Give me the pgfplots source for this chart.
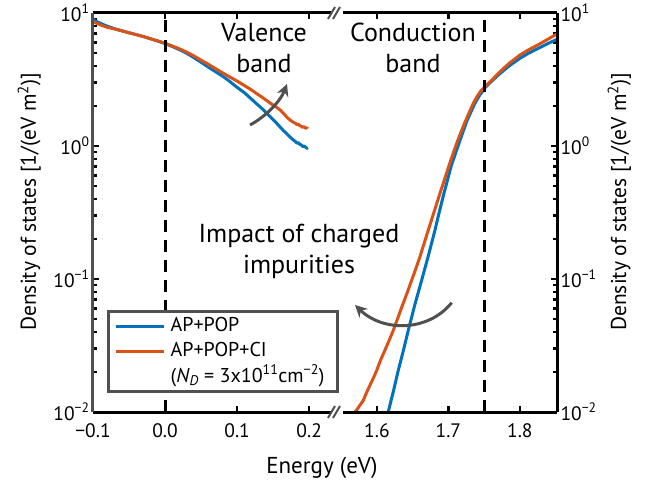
\documentclass[border=0pt]{standalone}
\usepackage{fontspec}
\setmainfont{PT Sans}
\usepackage{pgfplots}
\pgfplotsset{compat=1.18}
\usetikzlibrary{arrows.meta}

\definecolor{mblue}{RGB}{0,114,189}
\definecolor{morange}{RGB}{217,83,25}
\definecolor{axgray}{RGB}{80,80,80}

\pgfplotsset{
  every axis/.append style={
    scale only axis, height=399pt,
    ymin=0.01, ymax=10,
    axis line style={draw=none},
    tick align=inside,
    major tick length=6pt, minor tick length=4pt,
    tick style={line width=2.5pt, black},
    xtick pos=both,
    ytick={0.01,0.1,1,10},
    yticklabels={10\textsuperscript{\textminus2},10\textsuperscript{\textminus1},10\textsuperscript{0},10\textsuperscript{1}},
    minor ytick={0.02,0.03,0.04,0.05,0.06,0.07,0.08,0.09,0.2,0.3,0.4,0.5,0.6,0.7,0.8,0.9,2,3,4,5,6,7,8,9},
    tick label style={font=\fontsize{19.5}{22}\selectfont},
    xticklabel style={yshift=-8pt},
  },
}
\tikzset{
  dcurve/.style={line width=3pt, line join=round},
  vline/.style={black, line width=3pt, dash pattern=on 12pt off 8pt},
}

\begin{document}
\begin{tikzpicture}
\path[use as bounding box] (-93pt,-68pt) rectangle (564pt,412pt);

% valence side
\begin{semilogyaxis}[
  width=245pt,
  xmin=-0.1, xmax=0.24,
  xtick={-0.1,0,0.1,0.2},
  xticklabels={\textminus0.1,0.0,0.1,0.2},
  ytick pos=left,
  legend cell align=left,
  legend style={at={(0.056,0.047)}, anchor=south west, draw=axgray, line width=3pt,
    font=\fontsize{20}{24}\selectfont, inner xsep=7pt, inner ysep=2pt, row sep=0pt,
    nodes={text height=14pt, text depth=4pt, inner ysep=3.7pt, inner xsep=5pt}},
  legend image code/.code={\draw[#1, line width=2.5pt] (0pt,0pt) -- (48pt,0pt);},
]
\addplot[dcurve, mblue] table {
-0.100 8.97
-0.095 8.62
-0.090 8.38
-0.085 8.15
-0.080 7.95
-0.070 7.62
-0.060 7.35
-0.050 7.10
-0.040 6.88
-0.030 6.65
-0.020 6.40
-0.010 6.15
0.000 5.90
0.010 5.60
0.020 5.30
0.030 4.98
0.040 4.62
0.050 4.26
0.060 3.92
0.070 3.62
0.081 3.32
0.090 3.05
0.100 2.76
0.110 2.52
0.118 2.30
0.127 2.08
0.136 1.88
0.146 1.66
0.155 1.48
0.164 1.31
0.170 1.22
0.174 1.16
0.178 1.11
0.181 1.08
0.183 1.05
0.185 1.06
0.187 1.03
0.189 1.02
0.191 0.99
0.193 1.00
0.195 0.98
0.197 0.96
0.198 0.97
};
\addlegendentry{AP+POP}
\addplot[dcurve, morange] table {
-0.100 8.60
-0.090 8.15
-0.080 7.80
-0.070 7.58
-0.060 7.35
-0.050 7.10
-0.040 6.88
-0.030 6.65
-0.020 6.40
-0.010 6.17
0.000 5.92
0.010 5.65
0.020 5.38
0.030 5.08
0.040 4.76
0.050 4.42
0.060 4.12
0.070 3.82
0.081 3.52
0.090 3.30
0.100 3.08
0.110 2.85
0.120 2.64
0.127 2.48
0.136 2.30
0.146 2.10
0.155 1.95
0.160 1.86
0.166 1.72
0.170 1.63
0.174 1.56
0.178 1.51
0.181 1.48
0.183 1.45
0.185 1.46
0.187 1.42
0.189 1.41
0.191 1.38
0.193 1.40
0.195 1.36
0.197 1.37
0.198 1.35
};
\addlegendentry{AP+POP+CI}
\addlegendimage{empty legend}
\addlegendentry{\makebox[155pt][l]{(\textit{N}\textsubscript{\textit{D}} = 3x10\textsuperscript{11}cm\textsuperscript{\textminus2})}}
\addplot[vline, forget plot] coordinates {(0,0.01) (0,10)};
\end{semilogyaxis}

% conduction side
\begin{semilogyaxis}[
  at={(245pt,0pt)},
  width=219pt,
  xmin=1.5455, xmax=1.852,
  xtick={1.6,1.7,1.8},
  xticklabels={1.6,1.7,1.8},
  ytick pos=right, yticklabel pos=right,
]
\addplot[dcurve, mblue] table {
1.6158 0.0100
1.6230 0.0143
1.6298 0.0205
1.6370 0.0290
1.6438 0.0410
1.6530 0.0640
1.6625 0.0975
1.6720 0.150
1.6811 0.232
1.6870 0.315
1.6937 0.439
1.7040 0.71
1.7147 1.045
1.7260 1.55
1.7370 2.09
1.7440 2.42
1.7510 2.73
1.7600 3.05
1.7720 3.50
1.7850 4.00
1.8000 4.56
1.8120 4.98
1.8250 5.40
1.8380 5.85
1.8520 6.34
};
\addplot[dcurve, morange] table {
1.5692 0.0100
1.5720 0.0104
1.5750 0.0110
1.5780 0.0116
1.5808 0.0122
1.5850 0.0138
1.5900 0.0158
1.5950 0.0180
1.5996 0.0205
1.6050 0.0245
1.6110 0.0290
1.6170 0.0345
1.6228 0.0410
1.6290 0.0505
1.6350 0.0620
1.6420 0.0780
1.6485 0.0975
1.6550 0.122
1.6600 0.146
1.6660 0.185
1.6717 0.232
1.6800 0.320
1.6881 0.439
1.6950 0.57
1.7000 0.69
1.7060 0.86
1.7115 1.045
1.7170 1.25
1.7230 1.50
1.7290 1.78
1.7347 2.09
1.7400 2.35
1.7450 2.58
1.7510 2.79
1.7600 3.10
1.7720 3.61
1.7850 4.18
1.8000 4.83
1.8120 5.28
1.8250 5.75
1.8380 6.30
1.8520 6.95
};
\addplot[vline] coordinates {(1.75,0.01) (1.75,10)};
\end{semilogyaxis}

% axis spines
\draw[black, line width=3pt] (0pt,0pt) -- (464pt,0pt);
\draw[black, line width=3pt] (0pt,399pt) -- (464pt,399pt);
\draw[black, line width=3pt] (464pt,0pt) -- (464pt,399pt);
\draw[axgray, line width=3pt] (0pt,0pt) -- (0pt,399pt);

% axis break marks
\foreach \yy in {0,399} {
  \fill[white] (238pt,\yy pt-2pt) rectangle (250pt,\yy pt+2pt);
  \draw[axgray, line width=2pt] (235pt,\yy pt-6pt) -- (242pt,\yy pt+6pt);
  \draw[axgray, line width=2pt] (240pt,\yy pt-6pt) -- (247pt,\yy pt+6pt);
}

% labels
\node[rotate=90, anchor=base, font=\fontsize{21.5}{26}\selectfont] at (-57pt,210pt) {Density of states [1/(eV m\textsuperscript{2})]};
\node[rotate=90, anchor=base, font=\fontsize{21.5}{26}\selectfont] at (533pt,210pt) {Density of states [1/(eV m\textsuperscript{2})]};
\node[anchor=base, font=\fontsize{23}{27}\selectfont] at (229pt,-61pt) {Energy (eV)};

% annotations
\node[anchor=base, font=\fontsize{26}{30}\selectfont] at (171pt,370pt) {Valence};
\node[anchor=base, font=\fontsize{26}{30}\selectfont] at (171pt,339pt) {band};
\node[anchor=base, font=\fontsize{26}{30}\selectfont] at (320pt,370pt) {Conduction};
\node[anchor=base, font=\fontsize{26}{30}\selectfont] at (320pt,339pt) {band};
\node[anchor=base, font=\fontsize{26}{30}\selectfont] at (206pt,169pt) {Impact of charged};
\node[anchor=base, font=\fontsize{26}{30}\selectfont] at (206pt,139pt) {impurities};

\draw[axgray, line width=3pt, -{Stealth[length=12pt,width=12pt]}]
  (157pt,287pt) .. controls (172pt,295pt) and (187pt,310pt) .. (194pt,328pt);
\draw[axgray, line width=3pt, -{Stealth[length=12pt,width=12pt]}]
  (358.7pt,109.3pt) .. controls (335pt,80pt) and (290pt,80pt) .. (262pt,107pt);
\end{tikzpicture}
\end{document}
